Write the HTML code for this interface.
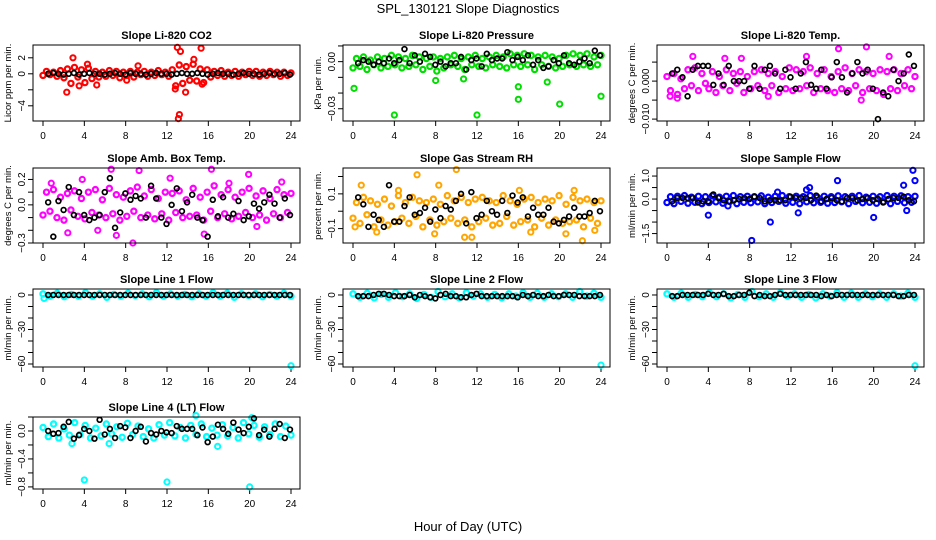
<!DOCTYPE html>
<html><head><meta charset="utf-8">
<style>
html,body{margin:0;padding:0;background:#fff;}
svg{display:block;font-family:"Liberation Sans",sans-serif;}
</style></head>
<body>
<svg id="chart" width="936" height="540" viewBox="0 0 936 540">
<text x="468" y="13" text-anchor="middle" font-size="13">SPL_130121  Slope Diagnostics</text>
<text x="468" y="531" text-anchor="middle" font-size="13">Hour of Day (UTC)</text>
</svg>
<script>
// ---- data arrays (colored series: evenly spaced over 0-24h; black series: evenly spaced 0.5-23.9h) ----
const xTicks = [0,4,8,12,16,20,24];
const titles = ["Slope Li-820 CO2","Slope Li-820 Pressure","Slope Li-820 Temp.","Slope Amb. Box Temp.","Slope Gas Stream RH","Slope Sample Flow","Slope Line 1 Flow","Slope Line 2 Flow","Slope Line 3 Flow","Slope Line 4 (LT) Flow"];
const yTitles = ["Licor ppm per min.","kPa per min.","degrees C per min.","degrees C per min.","percent per min.","ml/min per min.","ml/min per min.","ml/min per min.","ml/min per min.","ml/min per min."];

const co2Vals = [-0.2,0.3,-0.1,0.2,-0.3,0.4,-0.5,0.6,-1.2,0.8,-0.4,0.5,-1.1,0.7,-0.6,0.3,-0.4,0.2,-0.3,0.4,-0.2,0.3,-0.5,0.2,-0.2,0.3,-0.4,0.2,-0.1,0.3,-0.3,0.2,-0.2,0.4,-0.1,0.2,-0.3,0.5,-1.5,1.1,-1.2,0.9,-0.8,1.2,-0.9,0.6,-1.1,0.5,-0.4,0.3,-0.2,0.4,-0.3,0.2,-0.2,0.3,-0.3,0.2,-0.1,0.3,-0.2,0.3,-0.3,0.2,-0.2,0.3,-0.1,0.2,-0.3,0.2,-0.2,0.1];
const co2Out = [[2.3,-2.3],[2.9,2.0],[3.5,-1.5],[5.2,-1.4],[4.3,1.2],[8.1,-0.8],[9.2,1.0],[13.0,3.3],[13.3,2.8],[13.2,-5.1],[13.1,-5.6],[15.3,3.2],[14.6,1.8],[15.4,-1.3],[13.8,-2.3],[12.8,-1.9]];
const co2Black = [0,0.1,0,-0.1,0,0.1,-0.1,0,0.1,0,0,-0.1,0,0.1,0,-0.1,0.1,0,0,-0.1,0,0.1,0,0,-0.1,0,0.1,0,0,0.1,0,-0.1,0,0.1,0,0,-0.1,0,0.1,0,0,-0.1,0,0.1,0,0,0.1,-0.1];

const presVals = [-0.004,0.002,-0.003,0.003,-0.005,0.001,-0.002,0.003,-0.004,0.002,-0.003,0.004,-0.002,0.003,-0.004,0.002,-0.003,0.004,-0.002,0.003,-0.005,0.002,-0.003,0.003,-0.006,0.002,-0.004,0.003,-0.002,0.004,-0.003,0.002,-0.005,0.003,-0.002,0.004,-0.003,0.002,-0.004,0.003,-0.002,0.004,-0.003,0.003,-0.004,0.005,-0.002,0.004,-0.003,0.005,-0.002,0.004,-0.005,0.003,-0.002,0.004,-0.003,0.003,-0.004,0.002,-0.003,0.004,-0.002,0.005,-0.003,0.004,-0.002,0.005,-0.003,0.003,-0.002,0.004];
const presOut = [[0.1,-0.017],[4,-0.034],[12,-0.034],[16,-0.016],[16,-0.024],[18.8,-0.013],[20,-0.027],[24,-0.022],[8,-0.012],[10.7,-0.011]];
const presBlack = [-0.001,0.001,0,-0.002,0,-0.001,0.002,-0.001,0.001,0.008,-0.001,0.004,0,0.005,0.003,-0.002,0,-0.003,-0.001,-0.001,0.003,-0.005,0.001,0.002,-0.003,0.005,0.001,0.002,0.002,0.006,0.001,0.003,0.001,0.004,-0.002,0.001,-0.004,-0.003,0.001,-0.001,0.004,-0.001,-0.002,0,0.002,-0.001,0.007,0.004];

const tempVals = [0.0012,-0.0025,0.002,-0.0035,0.0006,-0.002,0.003,-0.0012,0.0035,-0.0025,0.002,-0.0006,-0.002,0.0025,-0.003,0.0012,-0.0012,0.003,-0.0025,0.002,-0.0006,0.0025,-0.003,0.0012,-0.002,0.0025,-0.0012,0.003,-0.0025,0.002,-0.0012,0.0025,-0.003,0.0012,-0.002,0.0035,-0.0025,0.003,-0.002,0.0025,-0.0012,0.0035,-0.003,0.002,-0.002,0.003,-0.0025,0.0012,-0.003,0.0025,-0.002,0.0035,-0.0025,0.002,-0.0012,0.003,-0.003,0.0025,-0.002,0.002,-0.0025,0.003,-0.0035,0.0025,-0.002,0.003,-0.0025,0.002,-0.0012,0.003,-0.002,0.0012];
const tempOut = [[1,-0.0045],[2.5,0.0065],[16.6,0.0085],[19.3,0.009],[13.5,0.0065],[0.3,-0.004],[9.8,-0.004],[21.5,0.0065],[5.6,0.006],[7.2,0.006],[18.8,-0.005]];
const tempBlack = [0.002,0.003,0.001,-0.004,0.003,0.004,0.004,0.004,-0.001,0.002,-0.001,0.004,0,0,0,-0.002,0.004,-0.002,0.003,0.004,0.002,-0.002,0.003,0.001,-0.002,0.002,0.005,-0.001,-0.002,0.003,-0.002,0.001,0.005,0.001,-0.003,0.002,0.005,0.002,0.003,-0.002,-0.010,-0.003,-0.004,0.003,0,0.002,0.007,0.004];

const ambVals = [-0.08,0.1,-0.05,0.12,-0.1,0.06,-0.12,0.09,-0.04,0.11,-0.09,0.05,-0.11,0.1,-0.06,0.12,-0.08,0.04,-0.1,0.13,-0.07,0.08,-0.12,0.06,-0.09,0.11,-0.05,0.14,-0.1,0.07,-0.08,0.12,-0.11,0.05,-0.07,0.1,-0.12,0.09,-0.06,0.11,-0.1,0.04,-0.09,0.13,-0.08,0.06,-0.12,0.1,-0.05,0.15,-0.1,0.08,-0.07,0.12,-0.11,0.06,-0.09,0.1,-0.06,0.13,-0.1,0.07,-0.08,0.11,-0.12,0.05,-0.07,0.12,-0.1,0.08,-0.06,0.09];
const ambOut = [[0.8,0.17],[2.4,-0.22],[5.3,-0.2],[6.6,0.28],[8.7,-0.3],[9.3,0.27],[7.1,-0.24],[16.3,0.28],[15.6,-0.23],[19.9,0.24],[20.7,-0.17],[23.1,0.18],[3.8,0.2],[12.3,0.21],[18,0.17]];
const ambBlack = [0.02,-0.25,0.03,-0.04,0.14,-0.08,0.1,-0.08,-0.12,-0.1,-0.08,0.1,0.21,-0.18,-0.06,0.09,0.04,0.07,0.05,-0.1,0.15,0.05,-0.1,-0.15,0,0.13,-0.05,0.02,0.08,-0.1,-0.12,-0.25,0.04,-0.09,0.06,-0.1,-0.07,0.03,-0.12,-0.09,0.01,-0.03,0.02,0.08,0.01,-0.1,0.05,-0.08];

const rhVals = [-0.04,0.05,-0.07,0.08,-0.02,0.06,-0.09,0.04,-0.05,0.07,-0.08,0.03,-0.06,0.09,-0.04,0.05,-0.07,0.08,-0.03,0.06,-0.09,0.05,-0.05,0.07,-0.08,0.04,-0.06,0.09,-0.04,0.06,-0.07,0.08,-0.05,0.05,-0.09,0.07,-0.06,0.08,-0.04,0.06,-0.08,0.05,-0.07,0.09,-0.03,0.06,-0.08,0.04,-0.06,0.07,-0.05,0.08,-0.09,0.05,-0.04,0.07,-0.08,0.06,-0.05,0.09,-0.07,0.04,-0.06,0.08,-0.05,0.06,-0.09,0.07,-0.04,0.05,-0.07,0.06];
const rhOut = [[0.2,-0.09],[0.8,0.15],[2.3,-0.12],[4.4,0.12],[6.2,0.21],[7.9,-0.13],[8.3,0.15],[10.8,-0.15],[11.5,-0.15],[10,0.24],[16.1,0.12],[17.2,-0.12],[20.6,-0.13],[22.2,-0.17],[21.4,0.12],[23.4,-0.11]];
const rhBlack = [0.08,0.04,-0.09,-0.02,-0.05,-0.09,0.15,-0.06,-0.06,0.03,0.08,-0.02,-0.01,0.02,-0.06,0.01,-0.04,0.03,0.01,0.06,0.1,-0.07,0.11,-0.04,-0.02,0.06,0,-0.02,0.06,-0.01,0.09,0.05,0.08,-0.03,0.02,-0.02,-0.02,0.02,-0.06,-0.07,-0.05,-0.03,0.02,-0.03,-0.03,-0.01,0.06,0];

const flowVals = [-0.15,0.1,-0.2,0.12,-0.1,0.15,-0.18,0.08,-0.14,0.12,-0.2,0.1,-0.15,0.14,-0.12,0.08,-0.18,0.12,-0.1,0.15,-0.2,0.1,-0.14,0.12,-0.16,0.1,-0.12,0.14,-0.2,0.08,-0.15,0.12,-0.1,0.15,-0.18,0.1,-0.14,0.12,-0.2,0.1,-0.12,0.15,-0.16,0.08,-0.14,0.12,-0.18,0.1,-0.15,0.14,-0.12,0.1,-0.2,0.12,-0.1,0.15,-0.16,0.08,-0.14,0.12,-0.18,0.1,-0.12,0.15,-0.2,0.12,-0.1,0.14,-0.16,0.1,-0.14,0.12];
const flowOut = [[4,-0.7],[8.2,-1.8],[10,-1.0],[12.7,-0.6],[13.5,0.4],[13.8,0.5],[16.5,0.8],[20,-0.8],[23.8,1.25],[24,0.8],[22.9,0.6],[23.2,-0.5],[5.9,-0.3],[10.7,0.3]];
const flowBlack = [-0.1,0.05,0.05,0.05,0.05,-0.15,-0.1,-0.1,0.2,0.05,-0.05,-0.1,-0.05,0,0.05,0,0.1,0.05,-0.1,-0.05,-0.05,-0.05,-0.05,0.1,0.05,0.05,0.05,-0.05,0.15,-0.1,0,0.05,-0.05,-0.1,0.05,0.05,-0.05,0,0.05,-0.05,0,-0.15,0,0.05,0.05,0.1,-0.05,-0.1];

const l1Vals = [1,-1,1.5,-1.5,0.5,-1,2,-1,1,-2,0.5,-1,1.5,-0.5,1,-1.5,2,-1,1,-1,0.5,-1.5,1,-1,2,-1,1.5,-2,1,-0.5,1,-1.5,0.5,-1,1.5,-1];
const l1Out = [[24,-61.5],[0.1,-3]];
const l1Black = [0,0,0,0,0,0,0,0,0,0,0,0,0,0,0,0,0,0,0,0,0,0,0,0,0,0,0,0,0,0,0,0,0,0,0,0,0,0,0,0,0,0,0,0,0,0,0,0];
const l2Vals = [1,-2,1.5,-2.5,0.5,-2,2,-1.5,1,-3,0.5,-2,3,-1.5,1,-2.5,2,-1,1,-2,0.5,-2.5,1,-1,2,-2,1.5,-2,1,-1.5,1,-2,3,-1,1.5,-2];
const l2Out = [[24,-61]];
const l2Black = [-1,-1,-1,0,1,1,0,-1,-1,-1,0,-2,0,-1,-2,-3,0,1,-1,-1,-2,-2,0,1,-1,-1,-1,-1,-1,-1,-1,-2,0,-1,0,-1,-1,0,-1,-1,0,0,0,-1,-1,-1,-1,0];
const l3Vals = [1,-2,1.5,-2,0.5,-1.5,2,-1.5,1,-2.5,0.5,-2,3,-1.5,1,-2,2,-1,1,-2,0.5,-2.5,1,-1,2,-2,1.5,-2,1,-1.5,1,-2,1,-1,1.5,-2];
const l3Out = [[24,-61.5]];
const l3Black = [-1,-1,0,0,0,0,0,1,0,0,1,-1,-1,0,0,2,-1,0,-1,-1,0,1,0,0,0,0,0,0,0,-1,0,-1,0,0,0,0,0,0,0,0,0,0,0,0,-1,-1,0,0];
const l4Vals = [0.05,-0.08,0.1,-0.1,0.03,-0.06,0.12,-0.05,0.08,-0.1,0.04,-0.07,0.1,-0.04,0.06,-0.09,0.11,-0.05,0.07,-0.08,0.03,-0.1,0.09,-0.06,0.12,-0.07,0.05,-0.1,0.08,-0.05,0.1,-0.08,0.04,-0.06,0.09,-0.07,0.05,-0.1,0.12,-0.04,0.08,-0.09,0.06,-0.05,0.1,-0.08,0.07,-0.06];
const l4Out = [[4,-0.7],[12,-0.73],[20,-0.8],[2.8,-0.18],[6.4,-0.18],[14.8,0.22],[16.9,-0.22],[20.2,0.19]];
const l4Black = [0,-0.04,-0.03,0.06,0.13,-0.11,-0.06,0.03,0,-0.11,0.16,-0.05,0.03,-0.1,0.07,0.05,-0.1,0,0.06,-0.15,-0.03,-0.05,0,-0.02,-0.03,0.07,0.03,0.03,0.03,-0.06,0.05,-0.16,-0.08,0.09,0.03,-0.04,0.12,0.02,-0.03,0.06,0.18,-0.06,0.02,-0.08,0.03,0.1,-0.1,0.02];

const yTickVals = [[-4,-2,0,2],[-0.03,-0.02,-0.01,0,0.01],[-0.01,-0.005,0,0.005],[-0.3,-0.2,-0.1,0,0.1,0.2],[-0.1,0,0.1,0.2],[-1.5,-1,-0.5,0,0.5,1],[-60,-50,-40,-30,-20,-10,0],[-60,-50,-40,-30,-20,-10,0],[-60,-50,-40,-30,-20,-10,0],[-0.8,-0.6,-0.4,-0.2,0,0.2]];
const yTickLabels = [{"-4":"-4","0":"0","2":"2"},{"-0.03":"-0.03","0":"0.00"},{"-0.01":"-0.010","0":"0.000"},{"-0.3":"-0.3","0":"0.0","0.2":"0.2"},{"-0.1":"-0.1","0.1":"0.1"},{"-1.5":"-1.5","0":"0.0","1":"1.0"},{"-60":"-60","-30":"-30","0":"0"},{"-60":"-60","-30":"-30","0":"0"},{"-60":"-60","-30":"-30","0":"0"},{"-0.8":"-0.8","-0.4":"-0.4","0":"0.0"}];
const yDomains = [[-5.9,3.6],[-0.0378,0.0106],[-0.0105,0.0095],[-0.3,0.29],[-0.183,0.249],[-1.91,1.35],[-62.6,5.2],[-62.6,5.2],[-62.6,5.2],[-0.83,0.2]];
const colVals = [co2Vals,presVals,tempVals,ambVals,rhVals,flowVals,l1Vals,l2Vals,l3Vals,l4Vals];
const colOut = [co2Out,presOut,tempOut,ambOut,rhOut,flowOut,l1Out,l2Out,l3Out,l4Out];
const blackVals = [co2Black,presBlack,tempBlack,ambBlack,rhBlack,flowBlack,l1Black,l2Black,l3Black,l4Black];
const colors = ["#ff0000","#00dd00","#ff00ff","#ff00ff","#ffa500","#0000ff","#00ffff","#00ffff","#00ffff","#00ffff"];
const panelNames = ["co2","pressure","li820-temp","amb-box-temp","gas-stream-rh","sample-flow","line1-flow","line2-flow","line3-flow","line4-flow"];

// ---- layout ----
const NS = "http://www.w3.org/2000/svg";
const svg = document.getElementById("chart");
const colLeft = [33,343,657], boxW = 267;
const rowTop = [45,168,289,417], rowBot = [121,243,367,489];
function mk(tag, attrs, parent){const e=document.createElementNS(NS,tag);for(const k in attrs)e.setAttribute(k,attrs[k]);(parent||svg).appendChild(e);return e;}

for (let p=0;p<10;p++){
  const r=Math.floor(p/3), c=p%3;
  const L=colLeft[c], T=rowTop[r], B=rowBot[r], R=L+boxW;
  const g=mk("g",{});
  
  
  const xs = v => L+10+(v/24)*248;
  const [d0,d1]=yDomains[p];
  const ys = v => B-(v-d0)/(d1-d0)*(B-T);
  const t=mk("text",{x:(L+R)/2,y:T-6,"text-anchor":"middle","font-size":"11","font-weight":"bold"},g);
  t.textContent=titles[p];
  
  
  xTicks.forEach(v=>{
    const x=xs(v);
    mk("line",{x1:x,y1:B,x2:x,y2:B+5,stroke:"#000"},g);
    const tl=mk("text",{x:x,y:B+18,"text-anchor":"middle","font-size":"10"},g);
    tl.textContent=v;
    
    
  });
  yTickVals[p].forEach(v=>{
    const y=ys(v);
    mk("line",{x1:L-5,y1:y,x2:L,y2:y,stroke:"#000"},g);
    const lab=yTickLabels[p][String(v)];
    if(lab!==undefined){
      const tl=mk("text",{x:L-8,y:y,"text-anchor":"middle","font-size":"10",transform:`rotate(-90 ${L-8} ${y})`},g);
      tl.textContent=lab.replace("-","\u2212");
      
      
    }
  });
  const yt=mk("text",{x:L-22,y:(T+B)/2,"text-anchor":"middle","font-size":"9.5",transform:`rotate(-90 ${L-22} ${(T+B)/2})`},g);
  yt.textContent=yTitles[p];
  
  
  const cv=colVals[p], n=cv.length;
  cv.forEach((v,i)=>{
    const pt=mk("circle",{cx:xs(i*24/(n-1)),cy:ys(v),r:2.6,fill:"none",stroke:colors[p],"stroke-width":2.2},g);
    
    
  });
  colOut[p].forEach(o=>{
    const pt=mk("circle",{cx:xs(o[0]),cy:ys(o[1]),r:2.6,fill:"none",stroke:colors[p],"stroke-width":2},g);
    
    
  });
  const bv=blackVals[p], m=bv.length;
  bv.forEach((v,i)=>{
    const pt=mk("circle",{cx:xs(0.5+i*23.4/(m-1)),cy:ys(v),r:2.4,fill:"none",stroke:"#000","stroke-width":1.7},g);
    
    
  });
  const box=mk("rect",{x:L,y:T,width:boxW,height:B-T,fill:"none",stroke:"#000"},g);
  
  
}
</script>
</body></html>
